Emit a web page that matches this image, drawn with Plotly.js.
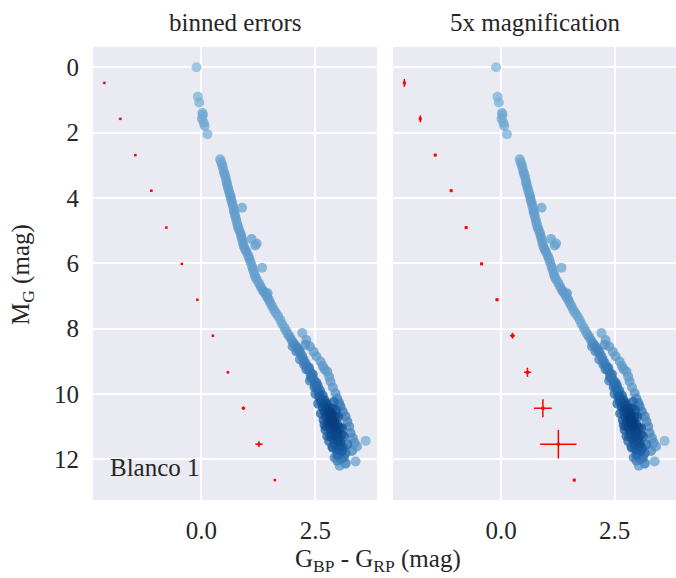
<!DOCTYPE html>
<html><head><meta charset="utf-8">
<script src="https://cdn.plot.ly/plotly-3.0.1.min.js"></script>
<style>html,body{margin:0;padding:0;background:#fff}</style>
</head><body><div id="chart" style="width:676px;height:578px"></div>
<script>
// Colour index G_BP - G_RP of cluster members (mag)
const starColor = [
 -0.11,-0.08,-0.05,0.02,0.03,0.01,0.05,0.07,0.13,0.41,
 0.43,0.45,0.47,0.49,0.51,0.53,0.55,0.56,0.58,0.60,
 0.62,0.64,0.65,0.67,0.69,0.71,0.72,0.74,0.76,0.78,
 0.80,0.82,0.85,0.87,0.89,0.91,0.93,0.96,0.99,1.03,
 1.05,1.08,1.11,1.13,1.16,1.18,1.21,1.26,1.30,1.34,
 1.37,1.41,1.44,1.48,1.51,1.55,1.59,1.63,1.68,1.73,
 1.77,1.82,1.86,1.90,1.94,1.98,2.02,2.06,2.10,2.14,
 2.17,2.21,2.24,2.28,2.32,2.35,2.39,2.42,2.46,2.49,
 2.53,2.57,2.61,2.64,2.68,2.72,2.76,2.79,2.83,2.87,
 2.91,2.95,2.98,3.01,3.05,3.10,3.16,3.16,2.25,2.30,
 2.36,2.40,2.44,2.48,2.52,2.55,2.58,2.60,2.62,2.66,
 2.66,2.70,2.70,2.74,2.74,2.78,2.78,2.82,2.80,2.85,
 2.84,2.88,2.86,2.92,2.90,2.95,2.93,3.00,2.97,3.04,
 3.00,3.08,2.88,2.92,2.98,3.06,3.12,2.80,2.76,2.72,
 2.70,2.98,2.87,3.38,3.16,3.03,2.21,2.30,2.38,2.46,
 2.52,2.61,2.66,2.70,2.76,2.80,2.83,2.88,2.94,2.98,
 3.02,3.05,3.10,3.16,3.20,3.24,3.27,3.32,3.36,3.41,
 3.60,3.30,3.20,3.12,3.08,3.00,2.95,2.90,0.89,1.10,
 1.18,1.21,1.33,1.45,2.28,2.00,2.08,2.16,2.38,2.50,
 2.56,2.62,2.68,2.74,2.82,3.07,3.03,2.98,2.93,2.87
];
// Absolute magnitude M_G of cluster members (mag)
const starMag = [
 0.00,0.90,1.08,1.40,1.46,1.58,1.70,1.80,2.05,2.82,
 2.90,2.98,3.08,3.20,3.28,3.38,3.50,3.58,3.68,3.78,
 3.88,3.96,4.05,4.14,4.25,4.37,4.45,4.55,4.66,4.78,
 4.88,4.96,5.06,5.16,5.26,5.38,5.49,5.58,5.66,5.78,
 5.86,5.98,6.10,6.20,6.32,6.41,6.50,6.61,6.72,6.82,
 6.88,6.96,7.04,7.12,7.22,7.32,7.43,7.52,7.62,7.74,
 7.86,7.98,8.08,8.18,8.26,8.36,8.45,8.52,8.60,8.68,
 8.75,8.86,8.96,9.06,9.16,9.26,9.36,9.46,9.57,9.70,
 9.82,9.95,10.08,10.18,10.28,10.38,10.49,10.60,10.75,10.90,
 11.00,11.10,11.20,11.35,11.51,11.66,11.82,12.12,9.10,9.25,
 9.20,9.50,9.40,9.80,9.65,9.75,10.10,9.90,10.25,10.05,
 10.40,10.20,10.55,10.30,10.70,10.45,10.85,10.55,11.00,10.65,
 11.10,10.80,11.25,10.90,11.40,11.30,11.55,11.45,11.70,11.60,
 11.85,11.75,11.65,11.95,12.05,12.00,11.95,11.45,11.30,11.10,
 10.95,11.87,11.61,12.07,12.14,12.20,8.14,8.35,8.55,8.71,
 8.85,9.01,9.15,9.25,9.32,9.48,9.62,9.80,9.98,10.15,
 10.28,10.39,10.55,10.69,10.85,11.00,11.20,11.35,11.50,11.61,
 11.44,11.75,11.55,11.30,11.05,10.70,10.50,10.25,4.30,5.26,
 5.46,5.40,6.14,6.92,8.50,8.55,8.70,8.95,9.60,10.00,
 10.30,10.60,10.80,11.00,11.30,11.25,11.05,10.95,10.70,10.45
];
// Binned uncertainties
const binColor = [-2.13,-1.78,-1.45,-1.10,-0.77,-0.43,-0.09,0.25,0.58,0.92,1.26,1.61];
const binMag   = [0.48,1.58,2.69,3.78,4.91,6.02,7.12,8.22,9.34,10.44,11.54,12.64];
const binErrColor = [0.004,0.004,0.004,0.005,0.005,0.006,0.006,0.011,0.015,0.039,0.080,0.002];
const binErrMag   = [0.024,0.021,0.006,0.006,0.006,0.007,0.008,0.018,0.028,0.055,0.088,0.002];
const magnification = 5;
const panelTitles = ['binned errors', '5x magnification'];
const clusterName = 'Blanco 1';
const xTickVals = [0, 2.5];
const xTickText = ['0.0', '2.5'];
const yTickVals = [0, 2, 4, 6, 8, 10, 12];

// local density for colouring (like a KDE colour map)
const W = 676, H = 578;
const sx = 45.6, sy = 32.67;
const dens = starColor.map((x, i) => {
  let s = 0;
  for (let j = 0; j < starColor.length; j++) {
    const dx = (x - starColor[j]) * sx, dy = (starMag[i] - starMag[j]) * sy;
    s += Math.exp(-(dx*dx + dy*dy) / (2 * 9 * 9));
  }
  return s;
});
const order = dens.map((d, i) => i).sort((a, b) => dens[a] - dens[b]);
const ox = order.map(i => starColor[i]);
const oy = order.map(i => starMag[i]);
const od = order.map(i => dens[i]);
const dmin = Math.min(...od), dmax = Math.max(...od);

const blues = [[0, 'rgb(132,186,220)'], [0.35, 'rgb(90,150,200)'], [0.7, 'rgb(30,100,170)'], [1, 'rgb(8,62,130)']];
const font = '"Liberation Serif", "Times New Roman", Times, serif';
const txt = '#262626';

function starTrace(xa, ya) {
  return {type: 'scatter', mode: 'markers', x: ox, y: oy, xaxis: xa, yaxis: ya,
    hoverinfo: 'skip', showlegend: false,
    marker: {size: 10, color: od, cmin: dmin, cmax: dmax, colorscale: blues, opacity: 0.78, line: {width: 0}}};
}
function errTrace(xa, ya, k, msize) {
  return {type: 'scatter', mode: 'markers', x: binColor, y: binMag, xaxis: xa, yaxis: ya,
    hoverinfo: 'skip', showlegend: false,
    marker: {size: msize, color: 'red', symbol: 'square', line: {width: 0}},
    error_x: {type: 'data', array: binErrColor.map(v => v * k), width: 0, color: 'red', thickness: 1.5},
    error_y: {type: 'data', array: binErrMag.map(v => v * k), width: 0, color: 'red', thickness: 1.5}};
}

const axBase = {range: [-2.38, 3.85], tickvals: xTickVals, ticktext: xTickText, showgrid: true,
  gridcolor: 'white', gridwidth: 2, zeroline: false, showline: false, ticks: 'outside', ticklen: 8,
  tickcolor: 'rgba(0,0,0,0)', tickfont: {family: font, size: 25, color: txt}};
const ayBase = {range: [13.25, -0.62], tickvals: yTickVals, showgrid: true, domain: [1 - 500/H, 1 - 47/H],
  gridcolor: 'white', gridwidth: 2, zeroline: false, showline: false, ticks: 'outside', ticklen: 8,
  tickcolor: 'rgba(0,0,0,0)', tickfont: {family: font, size: 25, color: txt}};

const layout = {
  width: W, height: H, margin: {l: 0, r: 0, t: 0, b: 0},
  paper_bgcolor: 'white', plot_bgcolor: '#eaeaf2', showlegend: false,
  font: {family: font, color: txt},
  xaxis: Object.assign({}, axBase, {domain: [93/W, 377/W], anchor: 'y'}),
  yaxis: Object.assign({}, ayBase, {anchor: 'x'}),
  xaxis2: Object.assign({}, axBase, {domain: [393/W, 1], anchor: 'y2'}),
  yaxis2: Object.assign({}, ayBase, {anchor: 'x2', showticklabels: false}),
  annotations: [
    {text: panelTitles[0], xref: 'paper', yref: 'paper', x: 235/W, y: 1 - 22/H, xanchor: 'center', yanchor: 'middle', showarrow: false, font: {size: 25, family: font, color: txt}},
    {text: panelTitles[1], xref: 'paper', yref: 'paper', x: 535/W, y: 1 - 22/H, xanchor: 'center', yanchor: 'middle', showarrow: false, font: {size: 25, family: font, color: txt}},
    {text: clusterName, xref: 'paper', yref: 'paper', x: 108/W, y: 1 - 467/H, xanchor: 'left', yanchor: 'middle', showarrow: false, font: {size: 25, family: font, color: txt}},
    {text: 'G<sub>BP</sub> - G<sub>RP</sub> (mag)', xref: 'paper', yref: 'paper', x: 378/W, y: 1 - 560/H, xanchor: 'center', yanchor: 'middle', showarrow: false, font: {size: 25, family: font, color: txt}},
    {text: 'M<sub>G</sub> (mag)', xref: 'paper', yref: 'paper', x: 22/W, y: 1 - 275/H, xanchor: 'center', yanchor: 'middle', textangle: -90, showarrow: false, font: {size: 25, family: font, color: txt}}
  ]
};

Plotly.newPlot('chart', [
  starTrace('x', 'y'), errTrace('x', 'y', 1, 2.5),
  starTrace('x2', 'y2'), errTrace('x2', 'y2', magnification, 3)
], layout, {staticPlot: true, displayModeBar: false});
</script></body></html>
